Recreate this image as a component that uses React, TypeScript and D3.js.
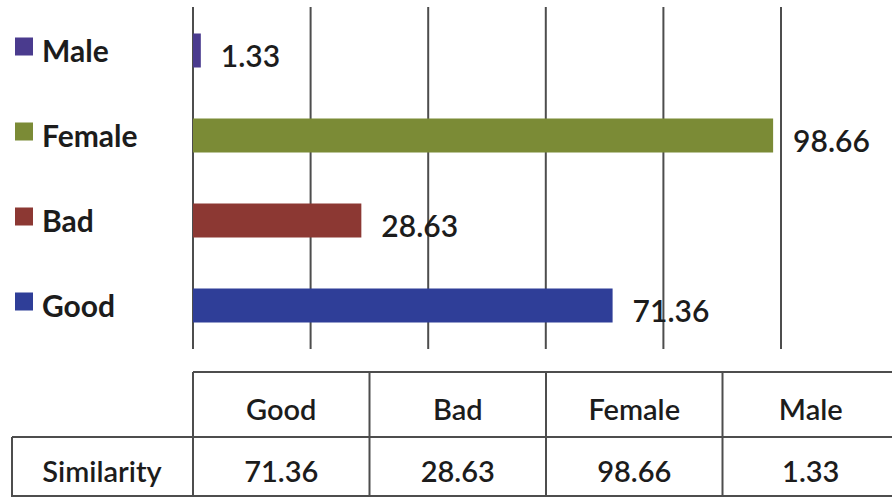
import React from "react";
import * as d3 from "d3";

// chart data
const categories = ["Good", "Bad", "Female", "Male"];
const similarity = [71.36, 28.63, 98.66, 1.33];
const rowLabel = "Similarity";
const xTicks = [0, 20, 40, 60, 80, 100];

const colors: Record<string, string> = {
  Good: "#2f3e98",
  Bad: "#8c3833",
  Female: "#7b8b36",
  Male: "#4a3b8e",
};

const W = 892;
const H = 497;
const FONT = "Lato, 'Open Sans', sans-serif";
const LINE = "#4d4d4d";
const INK = "#1c1c1c";

const App = () => {
  const x = d3.scaleLinear().domain([0, 100]).range([193, 781]);

  // top to bottom: Male, Female, Bad, Good
  const y = d3
    .scaleBand()
    .domain(categories.slice().reverse())
    .range([8, 348])
    .paddingInner(0.6)
    .paddingOuter(0.3);

  const cols = d3.scaleBand().domain(categories).range([193, 899]);

  const rows = categories.map((c, i) => ({ name: c, value: similarity[i] }));

  const tableTop = 372;
  const tableMid = 437;
  const tableBottom = 497;

  return (
    <svg
      width={W}
      height={H}
      style={{ position: "absolute", left: 0, top: 0, background: "#fff" }}
      fontFamily={FONT}
    >
      {/* gridlines */}
      {xTicks.map((t) => (
        <line
          key={t}
          x1={x(t)}
          x2={x(t)}
          y1={7}
          y2={349}
          stroke={LINE}
          strokeWidth={2}
        />
      ))}

      {/* bars */}
      {rows.map((d) => (
        <rect
          key={d.name}
          x={x(0)}
          y={y(d.name)}
          width={x(d.value) - x(0)}
          height={y.bandwidth()}
          fill={colors[d.name]}
        />
      ))}

      {/* value labels */}
      {rows.map((d) => (
        <text
          key={d.name}
          x={x(d.value) + 20}
          y={(y(d.name) as number) + y.bandwidth() - 1}
          fontSize={30}
          fontWeight={600}
          fill={INK}
        >
          {d.value}
        </text>
      ))}

      {/* legend */}
      {rows.map((d) => {
        const cy = (y(d.name) as number) + y.bandwidth() / 2 - 4;
        return (
          <g key={d.name}>
            <rect x={15} y={cy - 9} width={18} height={18} fill={colors[d.name]} />
            <text x={42} y={cy + 15} fontSize={30} fontWeight={700} fill={INK}>
              {d.name}
            </text>
          </g>
        );
      })}

      {/* data table */}
      <g stroke={LINE} strokeWidth={2} fill="none">
        <line x1={193} x2={W} y1={tableTop} y2={tableTop} />
        <line x1={12} x2={W} y1={tableMid} y2={tableMid} />
        <line x1={12} x2={12} y1={tableMid} y2={tableBottom} />
        <line x1={12} x2={W} y1={tableBottom - 1} y2={tableBottom - 1} />
        {categories.map((c) => (
          <line
            key={c}
            x1={cols(c)}
            x2={cols(c)}
            y1={tableTop}
            y2={tableBottom}
          />
        ))}
      </g>
      {rows.map((d) => (
        <g key={d.name}>
          <text
            x={(cols(d.name) as number) + cols.bandwidth() / 2}
            y={420}
            textAnchor="middle"
            fontSize={29}
            fontWeight={600}
            fill={INK}
          >
            {d.name}
          </text>
          <text
            x={(cols(d.name) as number) + cols.bandwidth() / 2}
            y={482}
            textAnchor="middle"
            fontSize={29}
            fontWeight={600}
            fill={INK}
          >
            {d.value}
          </text>
        </g>
      ))}
      <text
        x={102}
        y={482}
        textAnchor="middle"
        fontSize={29}
        fontWeight={600}
        fill={INK}
      >
        {rowLabel}
      </text>
    </svg>
  );
};

export default App;
